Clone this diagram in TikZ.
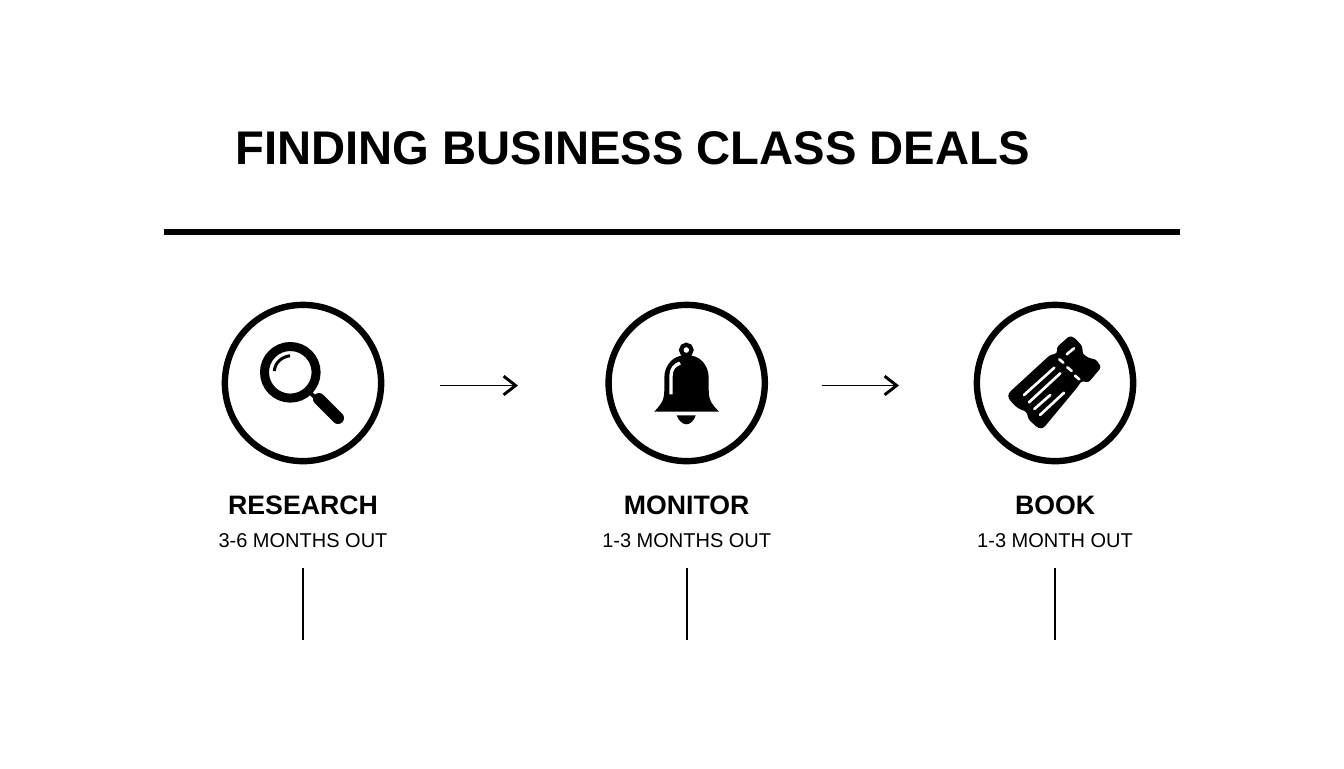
\documentclass[tikz,border=0pt]{standalone}
\usepackage{fontspec}
\setmainfont{Liberation Sans}
\usetikzlibrary{positioning, arrows.meta}

\begin{document}
\begin{tikzpicture}[
        x=0.75pt, y=-0.75pt,
        ring/.style={circle, draw, line width=4.8pt, minimum size=117.2pt, inner sep=0pt},
        heading/.style={inner sep=0pt, font=\bfseries\fontsize{35.4}{36}\selectfont},
        steplabel/.style={inner sep=0pt, font=\bfseries\fontsize{20}{20}\selectfont},
        timing/.style={inner sep=0pt, font=\fontsize{15}{15}\selectfont},
        arrow/.style={line width=1.1pt, -{Straight Barb[length=9pt, width=14pt, line width=2.2pt]}},
        tick/.style={line width=1.1pt},
        cutout/.style={white, line width=2pt, line cap=round}
    ]
    \useasboundingbox (0,0) rectangle (1344,768);

    \node[heading, anchor=west] (title) at (235,148) {FINDING BUSINESS CLASS DEALS};
    \coordinate (ruleleft) at (164,232);
    \coordinate (ruleright) at (1180,232);
    \draw[line width=4.5pt] (ruleleft) -- (ruleright);

    \node[ring] (research) at (303,383) {};
    \node[ring] (monitor) at (686.7,383) {};
    \node[ring] (book) at (1055,383) {};

    \node[steplabel, below=23.5pt of research] (researchlabel) {RESEARCH};
    \node[steplabel, below=23.5pt of monitor] (monitorlabel) {MONITOR};
    \node[steplabel, below=23.5pt of book] (booklabel) {BOOK};
    \node[timing, below=13.8pt of researchlabel] (researchtime) {3-6 MONTHS OUT};
    \node[timing, below=13.8pt of monitorlabel] (monitortime) {1-3 MONTHS OUT};
    \node[timing, below=13.8pt of booklabel] (booktime) {1-3 MONTH OUT};

    % arrows between the steps
    \coordinate (firststart) at (440,385.5);
    \coordinate (firstend) at (518,385.5);
    \coordinate (secondstart) at (822,385.5);
    \coordinate (secondend) at (899,385.5);
    \draw[arrow] (firststart) -- (firstend);
    \draw[arrow] (secondstart) -- (secondend);

    % ticks under the steps
    \coordinate (researchtick) at (303,568);
    \coordinate (monitortick) at (687,568);
    \coordinate (booktick) at (1055,568);
    \draw[tick] (researchtick) -- ++(0,72);
    \draw[tick] (monitortick) -- ++(0,72);
    \draw[tick] (booktick) -- ++(0,72);

    % magnifier
    \draw[line width=6.75pt] (290.3,372.3) circle[radius=25.8];
    \draw[line width=3pt] (310,392.5) -- (320,402);
    \draw[line width=9pt, line cap=round] (319,399) -- (338,418);
    \draw[line width=2.25pt] (274.3,371) .. controls (275,363) and (281,357) .. (290,355.7);

    % bell
    \fill (654.3,411.7) .. controls (660,405) and (664.3,402) .. (664.3,390) -- (664.3,378)
        .. controls (664.3,365) and (673,355) .. (686.5,355)
        .. controls (700,355) and (708.7,365) .. (708.7,378) -- (708.7,390)
        .. controls (708.7,402) and (713,405) .. (719,411.7) -- cycle;
    \draw[line width=3.2pt] (686.3,350) circle[radius=5.2];
    \fill (676.7,415.3) .. controls (678.5,421) and (683,424.3) .. (686.3,424.3)
        .. controls (690,424.3) and (694,421) .. (695.7,415.3) -- cycle;
    \draw[cutout, line cap=butt, line width=2.5pt] (671,394.3) -- (671,376) .. controls (671,369) and (674.5,365) .. (680,363);

    % ticket
    \fill[rounded corners=2pt] (1008.3,393.3) -- (1050,355) -- (1057.3,353.3) -- (1056.7,347.3)
        -- (1069.3,336) -- (1074,337.3) -- (1082.3,346) -- (1082.7,354) -- (1089.3,358.3)
        -- (1096,359.3) -- (1101.3,367.3) -- (1088.3,382.7) -- (1081.7,380.7) -- (1077.3,387.3)
        -- (1043.3,428.3) -- (1038.3,428.3) -- (1028.3,419.3) -- (1026.7,411.7) -- (1020,409.3)
        -- (1015,406) -- (1008.3,398.3) -- cycle;
    \draw[cutout] (1024,395) -- (1054.3,367.7);
    \draw[cutout] (1029,402.3) -- (1060.3,373.3);
    \draw[cutout] (1034.3,409) -- (1050.3,395);
    \draw[cutout] (1040,415) -- (1064,392.7);
    \draw[cutout] (1059.3,359.3) -- (1063.3,362.7);
    \draw[cutout] (1067.3,367.3) -- (1071.7,371);
    \draw[cutout] (1075,375.7) -- (1079.3,379.3);
    \draw[cutout] (1066.7,354.3) -- (1074,348.3);
\end{tikzpicture}
\end{document}
